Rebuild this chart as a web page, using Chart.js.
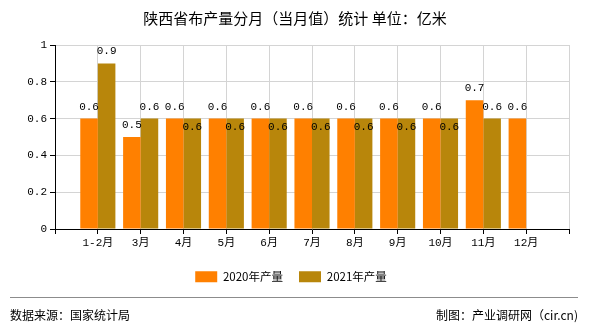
<!DOCTYPE html>
<html>
<head>
<meta charset="utf-8">
<script src="https://cdn.jsdelivr.net/npm/chart.js@4/dist/chart.umd.min.js"></script>
<style>
  html, body { margin:0; padding:0; background:#fff; }
  #wrap { position:relative; width:590px; height:330px; overflow:hidden; }
  #title { position:absolute; left:0; top:7px; width:590px; text-align:center; font-family:"Noto Sans CJK SC","Noto Sans",sans-serif; font-size:15px; color:#000; line-height:22px; }
  #chartBox { position:absolute; left:0; top:0; width:590px; height:330px; }
  #rule { position:absolute; left:10px; top:297px; width:568px; height:0; border-top:1px solid #8c8c8c; }
  #src { position:absolute; left:10px; top:306px; font-family:"Noto Sans CJK SC",sans-serif; font-size:12px; color:#000; line-height:18px; }
  #credit { position:absolute; right:12px; top:306px; font-family:"Noto Sans CJK SC",sans-serif; font-size:12px; color:#000; line-height:18px; }
</style>
</head>
<body>
<div id="wrap">
  <div id="chartBox"><canvas id="c"></canvas></div>
  <div id="title">陕西省布产量分月（当月值）统计 单位：亿米</div>
  <div id="rule"></div>
  <div id="src">数据来源：国家统计局</div>
  <div id="credit">制图：产业调研网（cir.cn)</div>
</div>
<script>
const categories = ['1-2月','3月','4月','5月','6月','7月','8月','9月','10月','11月','12月'];
const seriesNames = ['2020年产量','2021年产量'];
const values2020 = [0.6,0.5,0.6,0.6,0.6,0.6,0.6,0.6,0.6,0.7,0.6];
const values2021 = [0.9,0.6,0.6,0.6,0.6,0.6,0.6,0.6,0.6,0.6,null];
const yTicks = [0,0.2,0.4,0.6,0.8,1];
const colors = ['#ff8000','#b8860b'];

const labels = [''].concat(categories, ['']);
const pad = arr => [null].concat(arr, [null]);

const numFont = {family:'"Liberation Mono","DejaVu Sans Mono",monospace', size:11};

const valueLabels = {
  id:'valueLabels',
  afterDatasetsDraw(chart){
    const ctx = chart.ctx;
    ctx.save();
    ctx.font = numFont.size + 'px ' + numFont.family;
    ctx.fillStyle = '#000';
    ctx.textAlign = 'center';
    ctx.textBaseline = 'middle';
    const m0 = chart.getDatasetMeta(0), m1 = chart.getDatasetMeta(1);
    const d0 = chart.data.datasets[0].data, d1 = chart.data.datasets[1].data;
    for (let i = 0; i < labels.length; i++) {
      let y0 = null;
      if (d0[i] != null) {
        const el = m0.data[i];
        y0 = el.y - 12;
        ctx.fillText(String(d0[i]), el.x, y0);
      }
      if (d1[i] != null) {
        const el = m1.data[i];
        let y1 = el.y - 12;
        if (y0 !== null && Math.abs(y1 - y0) < 12) y1 = el.y + 8;
        ctx.fillText(String(d1[i]), el.x, y1);
      }
    }
    ctx.restore();
  }
};

new Chart(document.getElementById('c'), {
  type:'bar',
  data:{
    labels: labels,
    datasets:[
      {label:seriesNames[0], data:pad(values2020), backgroundColor:colors[0], categoryPercentage:0.82, barPercentage:1.0},
      {label:seriesNames[1], data:pad(values2021), backgroundColor:colors[1], categoryPercentage:0.82, barPercentage:1.0}
    ]
  },
  options:{
    responsive:true,
    maintainAspectRatio:false,
    animation:false,
    devicePixelRatio:1,
    layout:{padding:{top:45,left:13,right:21,bottom:37.5}},
    plugins:{
      title:{display:false},
      tooltip:{enabled:false},
      legend:{
        position:'bottom',
        labels:{boxWidth:22, boxHeight:11, padding:16, color:'#000',
          font:{family:'"Noto Sans CJK SC",sans-serif', size:11.5}}
      }
    },
    scales:{
      x:{
        offset:false,
        grid:{offset:false, color:'#d4d4d4', tickColor:'#000', tickLength:5, drawOnChartArea:true},
        border:{color:'#000'},
        ticks:{color:'#000', padding:2, autoSkip:false, maxRotation:0,
          font:{family:'"Liberation Mono","Noto Sans CJK SC",monospace', size:11}},
        afterFit(s){ s.height = 26; }
      },
      y:{
        min:0, max:1,
        afterBuildTicks(s){ s.ticks = yTicks.map(v => ({value:v})); },
        grid:{color:'#d4d4d4', tickColor:'#000', tickLength:5},
        border:{color:'#000'},
        ticks:{color:'#000', padding:3, font:numFont, callback:v => String(v)},
        afterFit(s){ s.width = 42; }
      }
    }
  },
  plugins:[valueLabels]
});
</script>
</body>
</html>
